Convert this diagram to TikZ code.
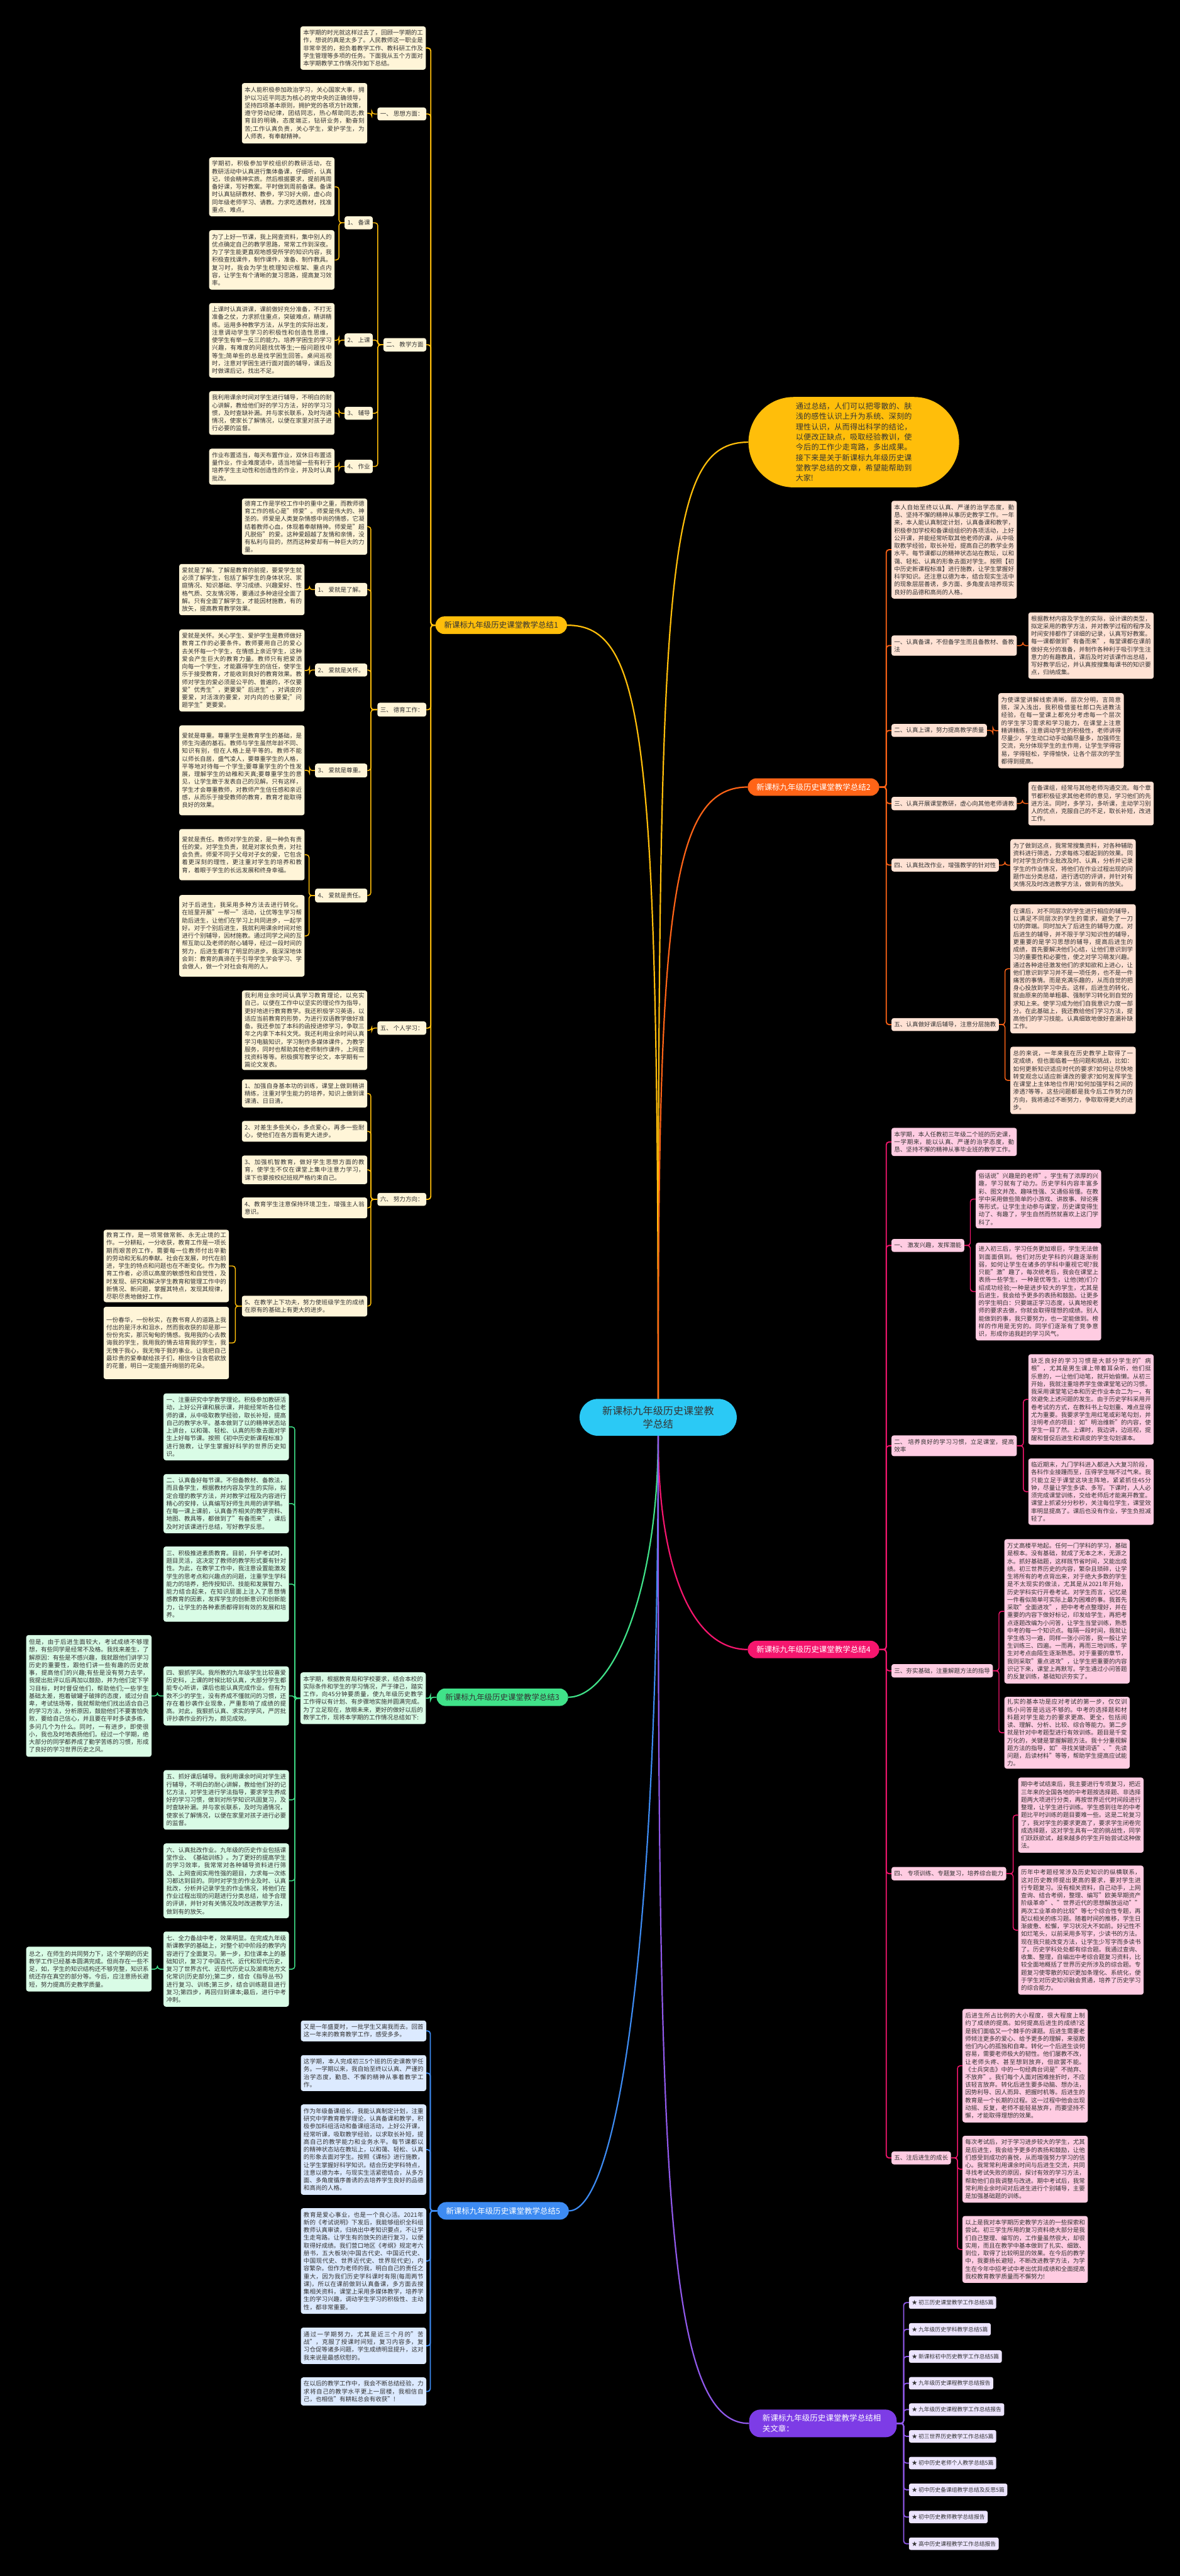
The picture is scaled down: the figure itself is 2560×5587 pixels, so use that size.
\documentclass[tikz,border=0pt]{standalone}
\usepackage{fontspec}
\setmainfont{Noto Sans CJK SC}
\XeTeXlinebreaklocale "zh"
\XeTeXlinebreakskip=0pt plus 1pt
\newcommand\myT{\fontsize{13pt}{16.7pt}\selectfont}
\newcommand\myN{\fontsize{17pt}{23pt}\selectfont}
\newcommand\myC{\fontsize{22pt}{29pt}\selectfont}
\newcommand\myK{\fontsize{16.5pt}{22.3pt}\selectfont}
\newcommand\myI{\fontsize{12pt}{14pt}\selectfont}
\definecolor{txtc}{HTML}{333333}
\definecolor{yl}{HTML}{FFBE0A}
\definecolor{ylbox}{HTML}{FFF5D8}
\definecolor{orn}{HTML}{FF6417}
\definecolor{ornbox}{HTML}{FFE2D4}
\definecolor{pnk}{HTML}{F5166E}
\definecolor{pnkbox}{HTML}{FFCCE2}
\definecolor{grn}{HTML}{40E289}
\definecolor{grnbox}{HTML}{D9FCE6}
\definecolor{blu}{HTML}{3D8BF2}
\definecolor{blubox}{HTML}{DCEAFF}
\definecolor{prp}{HTML}{7D3CE6}
\definecolor{prpbox}{HTML}{EDE5FF}
\definecolor{cyn}{HTML}{2BC9F5}
\newcommand\lconn[4]{\draw[#1] (#2.west) -- ++(-#3,0) |- (#4.east);}
\newcommand\rconn[4]{\draw[#1] (#2.east) -- ++(#3,0) |- (#4.west);}
\tikzset{
  every node/.style={inner sep=0pt},
  tb/.style={rounded corners=5pt, inner xsep=6pt, inner ysep=5pt, text width=260pt, align=justify, font=\myT, text=txtc},
  lb/.style={rounded corners=5pt, inner xsep=6pt, inner ysep=4pt, font=\myT, text=txtc, align=left},
  pill/.style={rounded corners=19pt, minimum height=38pt, font=\myN, inner xsep=19pt, align=center},
  yb/.style={tb, fill=ylbox, anchor=north east},
  yl2/.style={lb, fill=ylbox, anchor=north east},
  gb/.style={tb, fill=grnbox, anchor=north east},
  bb/.style={tb, fill=blubox, anchor=north east},
  ob/.style={tb, fill=ornbox, anchor=north west},
  ol/.style={lb, fill=ornbox, anchor=north west},
  pb/.style={tb, fill=pnkbox, anchor=north west},
  pl/.style={lb, fill=pnkbox, anchor=north west},
  itm/.style={rounded corners=4pt, inner xsep=6pt, minimum height=27pt, font=\myI, fill=prpbox, text=txtc, anchor=west},
  yc/.style={draw=yl, line width=2.5pt, rounded corners=6pt},
  yc2/.style={draw=yl, line width=2pt, rounded corners=6pt},
  oc/.style={draw=orn, line width=2.5pt, rounded corners=6pt},
  oc2/.style={draw=orn, line width=2pt, rounded corners=6pt},
  pc/.style={draw=pnk, line width=2.5pt, rounded corners=6pt},
  pc2/.style={draw=pnk, line width=2pt, rounded corners=6pt},
  gc/.style={draw=grn, line width=2.5pt, rounded corners=6pt},
  gc2/.style={draw=grn, line width=2pt, rounded corners=6pt},
  bc/.style={draw=blu, line width=2.5pt, rounded corners=6pt},
  vc/.style={draw=prp!85!white, line width=2.5pt, rounded corners=6pt},
}
\begin{document}
\begin{tikzpicture}[x=1pt,y=-1pt]
\fill[black] (0,0) rectangle (2560,5587);
\useasboundingbox (0,0) rectangle (2560,5587);

% ---------- centre ----------
\node[fill=cyn, rounded corners=40pt, minimum width=341pt, minimum height=80pt, font=\myC, text=txtc, align=center] (c) at (1428,3074) {新课标九年级历史课堂教\\学总结};

% ---------- cloud ----------
\node[fill=yl, rounded corners=98pt, minimum width=457pt, minimum height=196pt, text width=252pt, align=justify, font=\myK, text=txtc] (cl) at (1852.5,959) {通过总结，人们可以把零散的、肤浅的感性认识上升为系统、深刻的理性认识，从而得出科学的结论，以便改正缺点，吸取经验教训，使今后的工作少走弯路，多出成果。接下来是关于新课标九年级历史课堂教学总结的文章，希望能帮助到大家!};

% ---------- branch nodes ----------
\node[pill, fill=yl, text=txtc] (b1) at (1087.5,1356) {新课标九年级历史课堂教学总结1};
\node[pill, fill=orn, text=white] (b2) at (1765,1707) {新课标九年级历史课堂教学总结2};
\node[pill, fill=grn, text=txtc] (b3) at (1090,3681) {新课标九年级历史课堂教学总结3};
\node[pill, fill=pnk, text=white] (b4) at (1765,3577.5) {新课标九年级历史课堂教学总结4};
\node[pill, fill=blu, text=white] (b5) at (1091.5,4795) {新课标九年级历史课堂教学总结5};
\node[pill, fill=prp, text=white, rounded corners=24pt, minimum height=60pt, text width=262pt, inner xsep=29pt, align=left] (b6) at (1785.5,5256) {新课标九年级历史课堂教学总结相关文章：};

% ---------- centre connectors ----------
\draw[draw=yl, line width=3pt] (c.north) .. controls (1428,1600) and (1400,1356) .. (b1.east);
\draw[draw=yl, line width=3pt] (c.north) .. controls (1428,1250) and (1440,959) .. (cl.west);
\draw[draw=orn, line width=3pt] (c.north) .. controls (1428,2000) and (1450,1707) .. (b2.west);
\draw[draw=pnk, line width=3pt] (c.south) .. controls (1428,3400) and (1500,3577.5) .. (b4.west);
\draw[draw=grn, line width=3pt] (c.south) .. controls (1428,3450) and (1330,3681) .. (b3.east);
\draw[draw=blu, line width=3pt] (c.south) .. controls (1428,4300) and (1330,4795) .. (b5.east);
\draw[draw=prp!85!white, line width=3pt] (c.south) .. controls (1428,4700) and (1440,5256) .. (b6.west);

% ================= BRANCH 1 =================
\node[yb, minimum height=94pt] (y0) at (924,57) {本学期的时光就这样过去了，回顾一学期的工作，想说的真是太多了。人民教师这一职业是非常辛苦的，担负着教学工作、教科研工作及学生管理等多项的任务。下面我从五个方面对本学期教学工作情况作如下总结。};
\node[yl2, minimum height=28pt] (L1) at (925,233) {一、 思想方面：};
\node[yb, minimum height=131pt] (t1) at (797,180) {本人能积极参加政治学习，关心国家大事，拥护以习近平同志为核心的党中央的正确领导，坚持四项基本原则，拥护党的各项方针政策，遵守劳动纪律，团结同志，热心帮助同志;教育目的明确，态度端正，钻研业务，勤奋刻苦;工作认真负责，关心学生，爱护学生，为人师表，有奉献精神。};
\node[yl2, minimum height=29pt] (L2) at (925,733) {二、 教学方面};
\node[yl2, minimum height=28pt] (K1) at (809,469) {1、 备课};
\node[yb, minimum height=128pt] (tb1) at (726,341) {学期初，积极参加学校组织的教研活动，在教研活动中认真进行集体备课，仔细听，认真记，领会精神实质。然后根据要求，提前两周备好课，写好教案。平时做到周前备课。备课时认真钻研教材、教参，学习好大纲，虚心向同年级老师学习、请教。力求吃透教材，找准重点、难点。};
\node[yb, minimum height=129pt] (tb2) at (726,499) {为了上好一节课，我上网查资料，集中别人的优点确定自己的教学思路，常常工作到深夜。为了学生能更直观地感受所学的知识内容，我积极查找课件，制作课件，准备、制作教具。复习时，我会为学生梳理知识框架、重点内容，让学生有个清晰的复习思路，提高复习效率。};
\node[yl2, minimum height=29pt] (K2) at (809,723) {2、 上课};
\node[yb, minimum height=162pt] (ts) at (726,657) {上课时认真讲课，课前做好充分准备，不打无准备之仗，力求抓住重点，突破难点，精讲精练。运用多种教学方法，从学生的实际出发，注意调动学生学习的积极性和创造性思维，使学生有举一反三的能力。培养学困生的学习兴趣，有难度的问题找优等生;一般问题找中等生;简单些的总是找学困生回答。桌间巡视时，注意对学困生进行面对面的辅导，课后及时做课后记，找出不足。};
\node[yl2, minimum height=28pt] (K3) at (809,882) {3、 辅导};
\node[yb, minimum height=95pt] (tf) at (726,848) {我利用课余时间对学生进行辅导，不明白的耐心讲解，教给他们好的学习方法，好的学习习惯，及时查缺补漏。并与家长联系，及时沟通情况，使家长了解情况，以便在家里对孩子进行必要的监督。};
\node[yl2, minimum height=29pt] (K4) at (809,997) {4、 作业};
\node[yb, minimum height=78pt] (tz) at (726,973) {作业布置适当，每天布置作业，双休日布置适量作业，作业难度适中，适当地留一些有利于培养学生主动性和创造性的作业，并及时认真批改。};
\node[yl2, minimum height=30pt] (L3) at (925,1524) {三、 德育工作：};
\node[yb, minimum height=112pt] (td0) at (797,1081) {德育工作是学校工作中的重中之重，而教师德育工作的核心是"师爱"。师爱是伟大的、神圣的。师爱是人类复杂情感中尚的情感，它凝结着教师心血，体现着奉献精神。师爱是"超凡脱俗"的爱。这种爱超越了友情和亲情，没有私利与目的，然而这种爱却有一种巨大的力量。};
\node[yl2, minimum height=29pt] (A1) at (797,1264) {1、 爱就是了解。};
\node[yb, minimum height=111pt] (ta1) at (661,1223) {爱就是了解。了解是教育的前提，要爱学生就必须了解学生，包括了解学生的身体状况、家庭情况、知识基础、学习成绩、兴趣爱好、性格气质、交友情况等，要通过多种途径全面了解。只有全面了解学生，才能因材施教，有的放矢，提高教育教学效果。};
\node[yl2, minimum height=28pt] (A2) at (797,1439) {2、 爱就是关怀。};
\node[yb, minimum height=178pt] (ta2) at (661,1365) {爱就是关怀。关心学生、爱护学生是教师做好教育工作的必要条件。教师要用自己的爱心去关怀每一个学生，在情感上亲近学生，这种爱会产生巨大的教育力量。教师只有把爱洒向每一个学生，才能赢得学生的信任，使学生乐于接受教育，才能收到良好的教育效果。教师对学生的爱必须是公平的、普遍的，不仅要爱"优秀生"，更要爱"后进生"，对调皮的要爱，对活泼的要爱，对内向的也要爱;"问题学生"更要爱。};
\node[yl2, minimum height=30pt] (A3) at (797,1656) {3、 爱就是尊重。};
\node[yb, minimum height=195pt] (ta3) at (661,1573) {爱就是尊重。尊重学生是教育学生的基础，是师生沟通的基石。教师与学生虽然年龄不同、知识有别，但在人格上是平等的。教师不能以师长自居，盛气凌人，要尊重学生的人格，平等地对待每一个学生;要尊重学生的个性发展，理解学生的幼稚和天真;要尊重学生的意见，让学生敢于发表自己的见解。只有这样，学生才会尊重教师，对教师产生信任感和亲近感，从而乐于接受教师的教育，教育才能取得良好的效果。};
\node[yl2, minimum height=30pt] (A4) at (797,1927) {4、 爱就是责任。};
\node[yb, minimum height=111pt] (ta4a) at (661,1798) {爱就是责任。教师对学生的爱，是一种负有责任的爱。对学生负责，就是对家长负责，对社会负责。师爱不同于父母对子女的爱，它包含着更深刻的理性，更注重对学生的培养和教育，着眼于学生的长远发展和终身幸福。};
\node[yb, minimum height=177pt] (ta4b) at (661,1941) {对于后进生，我采用多种方法去进行转化。在班里开展"一帮一"活动，让优等生学习帮助后进生，让他们在学习上共同进步，一起学好。对于个别后进生，我就利用课余时间对他进行个别辅导，因材施教。通过同学之间的互帮互助以及老师的耐心辅导，经过一段时间的努力，后进生都有了明显的进步。我深深地体会到：教育的真谛在于引导学生学会学习、学会做人，做一个对社会有用的人。};
\node[yl2, minimum height=29pt] (L5) at (925,2215) {五、 个人学习：};
\node[yb, minimum height=162pt] (t5) at (797,2148) {我利用业余时间认真学习教育理论，以充实自己，以便在工作中以坚实的理论作为指导，更好地进行教育教学。我还积极学习英语，以适应当前教育的形势，为进行双语教学做好准备。我还参加了本科的函授进修学习，争取三年之内拿下本科文凭。我还利用业余时间认真学习电脑知识，学习制作多媒体课件，为教学服务，同时也帮助其他老师制作课件，上网查找资料等等。积极撰写教学论文，本学期有一篇论文发表。};
\node[yl2, minimum height=28pt] (L6) at (925,2587) {六、 努力方向：};
\node[yb, minimum height=61pt] (n1) at (797,2341) {1、加强自身基本功的训练，课堂上做到精讲精练，注重对学生能力的培养，知识上做到课课清、日日清。};
\node[yb, minimum height=45pt] (n2) at (797,2431) {2、对差生多些关心，多点爱心，再多一些耐心，使他们在各方面有更大进步。};
\node[yb, minimum height=62pt] (n3) at (797,2506) {3、加强机智教育，做好学生思想方面的教育，使学生不仅在课堂上集中注意力学习，课下也要按校纪班规严格约束自己。};
\node[yb, minimum height=45pt] (n4) at (797,2597) {4、教育学生注意保持环境卫生，增强主人翁意识。};
\node[yb, minimum height=45pt] (n5) at (797,2810) {5、在教学上下功夫，努力使班级学生的成绩在原有的基础上有更大的进步。};
\node[yb, minimum height=157pt] (f1) at (497,2667) {教育工作，是一项常做常新、永无止境的工作。一分耕耘，一分收获，教育工作是一项长期而艰苦的工作，需要每一位教师付出辛勤的劳动和无私的奉献。社会在发展，时代在前进，学生的特点和问题也在不断变化。作为教育工作者，必须以高度的敏感性和自觉性，及时发现、研究和解决学生教育和管理工作中的新情况、新问题，掌握其特点，发现其规律，尽职尽责地做好工作。};
\node[yb, minimum height=157pt] (f2) at (497,2834) {一份春华，一份秋实，在教书育人的道路上我付出的是汗水和泪水，然而我收获的却是那一份份充实，那沉甸甸的情感。我用我的心去教诲我的学生，我用我的情去培育我的学生，我无愧于我心，我无悔于我的事业。让我把自己最珍贵的爱奉献给孩子们，相信今日含苞欲放的花蕾，明日一定能盛开绚丽的花朵。};

\lconn{yc}{b1}{10}{y0}
\lconn{yc}{b1}{10}{L1}
\lconn{yc}{b1}{10}{L2}
\lconn{yc}{b1}{10}{L3}
\lconn{yc}{b1}{10}{L5}
\lconn{yc}{b1}{10}{L6}
\lconn{yc2}{L1}{12}{t1}
\lconn{yc2}{L2}{12}{K1}
\lconn{yc2}{L2}{12}{K2}
\lconn{yc2}{L2}{12}{K3}
\lconn{yc2}{L2}{12}{K4}
\lconn{yc2}{K1}{12}{tb1}
\lconn{yc2}{K1}{12}{tb2}
\lconn{yc2}{K2}{12}{ts}
\lconn{yc2}{K3}{12}{tf}
\lconn{yc2}{K4}{12}{tz}
\lconn{yc2}{L3}{14}{td0}
\lconn{yc2}{L3}{14}{A1}
\lconn{yc2}{L3}{14}{A2}
\lconn{yc2}{L3}{14}{A3}
\lconn{yc2}{L3}{14}{A4}
\lconn{yc2}{A1}{12}{ta1}
\lconn{yc2}{A2}{12}{ta2}
\lconn{yc2}{A3}{12}{ta3}
\lconn{yc2}{A4}{13}{ta4a}
\lconn{yc2}{A4}{13}{ta4b}
\lconn{yc2}{L5}{12}{t5}
\lconn{yc2}{L6}{14}{n1}
\lconn{yc2}{L6}{14}{n2}
\lconn{yc2}{L6}{14}{n3}
\lconn{yc2}{L6}{14}{n4}
\lconn{yc2}{L6}{14}{n5}
\lconn{yc2}{n5}{14}{f1}
\lconn{yc2}{n5}{14}{f2}

% ================= BRANCH 3 =================
\node[gb, minimum height=112pt] (g0) at (924,3627) {本学期，根据教育局和学校要求，结合本校的实际条件和学生的学习情况，严于律己，踏实工作，向45分钟要质量，使九年级历史教学工作得以有计划、有步骤地实施并圆满完成。为了立足现在，放眼未来，更好的做好以后的教学工作，现将本学期的工作情况总结如下:};
\node[gb, minimum height=145pt] (g1) at (627,3022) {一、注重研究中学教学理论。积极参加教研活动，上好公开课和展示课，并能经常听各位老师的课，从中吸取教学经验，取长补短，提高自己的教学水平。基本做到了以的精神状态站上讲台，以和蔼、轻松、认真的形象去面对学生上好每节课。按照《初中历史新课程标准》进行施教，让学生掌握好科学的世界历史知识。};
\node[gb, minimum height=128pt] (g2) at (627,3197) {二、认真备好每节课。不但备教材、备教法，而且备学生，根据教材内容及学生的实际，拟定合理的教学方法，并对教学过程及内容进行精心的安排，认真编写好师生共用的讲学稿。在每一课上课前，认真备齐相关的教学资料、地图、教具等，都做到了"有备而来"，课后及时对该课进行总结，写好教学反思。};
\node[gb, minimum height=163pt] (g3) at (627,3354) {三、积极推进素质教育。目前，升学考试时，题目灵活，这决定了教师的教学形式要有针对性。为此，在教学工作中，我注意设置能激发学生的思考点和兴趣点的问题，注重学生学科能力的培养，把传授知识、技能和发展智力、能力结合起来，在知识层面上注入了思想情感教育的因素，发挥学生的创新意识和创新能力，让学生的各种素质都得到有效的发展和培养。};
\node[gb, minimum height=128pt] (g4) at (627,3614) {四、狠抓学风。我所教的九年级学生比较喜爱历史科，上课的时候比较认真，大部分学生都能专心听讲，课后也能认真完成作业。但有为数不少的学生，没有养成不懂就问的习惯，还存在着抄袭作业现象，严重影响了成绩的提高。对此，我狠抓认真、求实的学风，严厉批评抄袭作业的行为，颇见成效。};
\node[gb, minimum height=264pt] (g4c) at (329,3546) {但是，由于后进生面较大，考试成绩不够理想，有些同学是经常不及格。我找来差生，了解原因：有些是不感兴趣，我就跟他们讲学习历史的重要性，跟他们讲一些有趣的历史故事，提高他们的兴趣;有些是没有努力去学，我提出批评以后再加以鼓励，并为他们定下学习目标，时时督促他们，帮助他们;一些学生基础太差，抱着破罐子破摔的态度，或过分自卑，考试怯场等，我就帮助他们找出适合自己的学习方法，分析原因，鼓励他们不要害怕失败，要给自己信心，并且要在平时多读多练，多问几个为什么。同时，一有进步，即使很小，我也及时地表扬他们。经过一个学期，绝大部分的同学都养成了勤学苦练的习惯，形成了良好的学习世界历史之风。};
\node[gb, minimum height=129pt] (g5) at (627,3839) {五、抓好课后辅导。我利用课余时间对学生进行辅导，不明白的耐心讲解，教给他们好的记忆方法，对学生进行学法指导，要求学生养成好的学习习惯，做到对所学知识巩固复习，及时查缺补漏。并与家长联系，及时沟通情况，使家长了解情况，以便在家里对孩子进行必要的监督。};
\node[gb, minimum height=162pt] (g6) at (627,3998) {六、认真批改作业。九年级的历史作业包括课堂作业、《基础训练》。为了更好的提高学生的学习效率，我常常对各种辅导资料进行筛选、上网查阅实用性强的题目，力求每一次练习都达到目的。同时对学生的作业及时、认真批改，分析并记录学生的作业情况，将他们在作业过程出现的问题进行分类总结，给予合理的评讲，并针对有关情况及时改进教学方法，做到有的放矢。};
\node[gb, minimum height=163pt] (g7) at (627,4189) {七、全力备战中考，效果明显。在完成九年级新课教学的基础上，对整个初中阶段的教学内容进行了全面复习。第一步，扣住课本上的基础知识，复习了中国古代、近代和现代历史，复习了世界古代、近现代历史以及湖南地方文化常识(历史部分);第二步，结合《指导丛书》进行复习、训练;第三步，结合训练题目进行复习;第四步，再回归到课本;最后，进行中考冲刺。};
\node[gb, minimum height=97pt] (g7c) at (329,4222) {总之，在师生的共同努力下，这个学期的历史教学工作已经基本圆满完成。但尚存在一些不足，如，学生的知识结构还不够完整，知识系统还存在真空的部分等。今后，应注意扬长避短，努力提高历史教学质量。};

\lconn{gc}{b3}{13}{g0}
\lconn{gc2}{g0}{12}{g1}
\lconn{gc2}{g0}{12}{g2}
\lconn{gc2}{g0}{12}{g3}
\lconn{gc2}{g0}{12}{g4}
\lconn{gc2}{g0}{12}{g5}
\lconn{gc2}{g0}{12}{g6}
\lconn{gc2}{g0}{12}{g7}
\lconn{gc2}{g4}{13}{g4c}
\lconn{gc2}{g7}{13}{g7c}

% ================= BRANCH 5 =================
\node[bb, minimum height=45pt] (bl1) at (925,4382) {又是一年盛夏时，一批学生又离我而去。回首这一年来的教育教学工作，感受多多。};
\node[bb, minimum height=78pt] (bl2) at (925,4457) {这学期，本人完成初三5个班的历史课教学任务。一学期以来，我自始至终以认真、严谨的治学态度，勤恳、不懈的精神从事着教学工作。};
\node[bb, minimum height=196pt] (bl3) at (925,4564) {作为年级备课组长，我能认真制定计划，注重研究中学教育教学理论，认真备课和教学，积极参加科组活动和备课组活动，上好公开课，经常听课，吸取教学经验，以求取长补短，提高自己的教学能力和业务水平。每节课都以的精神状态站在教坛上，以和蔼、轻松、认真的形象去面对学生。按照《课标》进行施教，让学生掌握好科学知识。结合历史学科特点，注意以德为本，与现实生活紧密结合，从多方面、多角度循序善诱的去培养学生良好的品德和高尚的人格。};
\node[bb, minimum height=229pt] (bl4) at (925,4789) {教育是爱心事业，也是一个良心活。2021年新的《考试说明》下发后，我能够组织全科组教师认真审读，归纳出中考知识要点，不让学生走弯路。让学生有的放矢的进行复习，以便取得好成绩。我们营口地区《考纲》规定考六册书，五大板块(中国古代史、中国近代史、中国现代史、世界近代史、世界现代史)，内容繁杂。但作为老师的我，明白自己的责任之重大，因为我们历史学科课时有限(每周两节课)，所以在课前做到认真备课，多方面去搜集相关资料，课堂上采用多媒体教学，培养学生的学习兴趣，调动学生学习的积极性、主动性，都非常重要。};
\node[bb, minimum height=79pt] (bl5) at (925,5048) {通过一学期努力，尤其是近三个月的"苦战"，克服了授课时间短，复习内容多，复习仓促等诸多问题，学生成绩明显提升，这对我来说是最感欣慰的。};
\node[bb, minimum height=61pt] (bl6) at (925,5156) {在以后的教学工作中，我会不断总结经验，力求将自己的教学水平更上一层楼，我相信自己，也相信"有耕耘总会有收获"!};

\lconn{bc}{b5}{15}{bl1}
\lconn{bc}{b5}{15}{bl2}
\lconn{bc}{b5}{15}{bl3}
\lconn{bc}{b5}{15}{bl4}
\lconn{bc}{b5}{15}{bl5}
\lconn{bc}{b5}{15}{bl6}

% ================= BRANCH 2 =================
\node[ob, minimum height=212pt] (o0) at (1934,1086) {本人自始至终以认真、严谨的治学态度，勤恳、坚持不懈的精神从事历史教学工作。一年来，本人能认真制定计划，认真备课和教学，积极参加学校和备课组组织的各项活动，上好公开课，并能经常听取其他老师的课，从中吸取教学经验，取长补短，提高自己的教学业务水平。每节课都以的精神状态站在教坛，以和蔼、轻松、认真的形象去面对学生。按照【初中历史新课程标准】进行施教，让学生掌握好科学知识。还注意以德为本，结合现实生活中的现象层层善诱，多方面、多角度去培养现实良好的品德和高尚的人格。};
\node[ob, minimum height=44pt] (o1) at (1934,1378) {一、认真备课，不但备学生而且备教材、备教法};
\node[ob, minimum height=144pt] (o1c) at (2231,1328) {根据教材内容及学生的实际，设计课的类型，拟定采用的教学方法，并对教学过程的程序及时间安排都作了详细的记录，认真写好教案。每一课都做到"有备而来"，每堂课都在课前做好充分的准备，并制作各种利于吸引学生注意力的有趣教具，课后及时对该课作出总结，写好教学后记，并认真按搜集每课书的知识要点，归纳成集。};
\node[ol, minimum height=28pt] (o2) at (1934,1570) {二、认真上课，努力提高教学质量};
\node[ob, minimum height=163pt] (o2c) at (2166,1503) {为使课堂讲解线索清晰，层次分明，言简意赅，深入浅出，我积极借鉴杜郎口先进教法经验，在每一堂课上都充分考虑每一个层次的学生学习需求和学习能力，在课堂上注意精讲精练，注意调动学生的积极性，老师讲得尽量少，学生动口动手动脑尽量多，加强师生交流，充分体现学生的主作用，让学生学得容易，学得轻松，学得愉快，让各个层次的学生都得到提高。};
\node[ol, minimum height=29pt] (o3) at (1934,1728) {三、认真开展课堂教研，虚心向其他老师请教};
\node[ob, minimum height=95pt] (o3c) at (2231,1695) {在备课组，经常与其他老师沟通交流。每个章节都积极征求其他老师的意见，学习他们的先进方法。同时，多学习，多听课，主动学习别人的优点，克服自己的不足，取长补短，改进工作。};
\node[ol, minimum height=28pt] (o4) at (1934,1862) {四、认真批改作业，增强教学的针对性};
\node[ob, minimum height=112pt] (o4c) at (2192,1820) {为了做到这点，我常常搜集资料，对各种辅助资料进行筛选，力求每练习都起到的效果。同时对学生的作业批改及时、认真，分析并记录学生的作业情况，将他们在作业过程出现的问题作出分类总结，进行透切的评讲，并针对有关情况及时改进教学方法，做到有的放矢。};
\node[ol, minimum height=28pt] (o5) at (1934,2208) {五、认真做好课后辅导，注意分层施教};
\node[ob, minimum height=280pt] (o5a) at (2192,1961) {在课后，对不同层次的学生进行相应的辅导，以满足不同层次的学生的需求，避免了一刀切的弊端。同时加大了后进生的辅导力度。对后进生的辅导，并不限于学习知识性的辅导，更重要的是学习思想的辅导，提高后进生的成绩，首先要解决他们心结，让他们意识到学习的重要性和必要性，使之对学习萌发兴趣。通过各种途径激发他们的求知欲和上进心，让他们意识到学习并不是一项任务，也不是一件痛苦的事情。而是充满乐趣的，从而自觉的把身心投放到学习中去。这样，后进生的转化，就由原来的简单粗暴、强制学习转化到自觉的求知上来。使学习成为他们自我意识力度一部分。在此基础上，我还教给他们学习方法，提高他们的学习技能。认真细致地做好查漏补缺工作。};
\node[ob, minimum height=146pt] (o5b) at (2192,2270) {总的来说，一年来我在历史教学上取得了一定成绩，但也面临着一些问题和挑战，比如：如何更新知识适应时代的要求?如何让尽快地转变观念以适应新课改的要求?如何发挥学生在课堂上主体地位作用?如何加强学科之间的渗透?等等，这些问题都是我今后工作努力的方向，我将通过不断努力，争取取得更大的进步。};

\rconn{oc}{b2}{15}{o0}
\rconn{oc}{b2}{15}{o1}
\rconn{oc}{b2}{15}{o2}
\rconn{oc}{b2}{15}{o3}
\rconn{oc}{b2}{15}{o4}
\rconn{oc}{b2}{15}{o5}
\rconn{oc2}{o1}{13}{o1c}
\rconn{oc2}{o2}{13}{o2c}
\rconn{oc2}{o3}{12}{o3c}
\rconn{oc2}{o4}{13}{o4c}
\rconn{oc2}{o5}{13}{o5a}
\rconn{oc2}{o5}{13}{o5b}

% ================= BRANCH 4 =================
\node[pb, minimum height=61pt] (p0) at (1934,2446) {本学期，本人任教初三年级二个班的历史课，一学期来，能以认真、严谨的治学态度，勤恳、坚持不懈的精神从事毕业班的教学工作。};
\node[pl, minimum height=28pt] (p1) at (1934,2687) {一、 激发兴趣，发挥潜能};
\node[pb, minimum height=127pt] (p1a) at (2117,2537) {俗话说"兴趣是的老师"。学生有了浓厚的兴趣，学习就有了动力。历史学科内容丰富多彩、图文并茂、趣味性强、又通俗易懂。在教学中采用做些简单的小游戏、讲故事、辩论赛等形式，让学生主动参与课堂，历史课变得生动了、有趣了，学生自然而然就喜欢上这门学科了。};
\node[pb, minimum height=212pt] (p1b) at (2117,2695) {进入初三后，学习任务更加艰巨，学生无法做到面面俱到。他们对历史学科的兴趣逐渐削弱，如何让学生在诸多的学科中重视它呢?我只能"激"趣了，每次统考后，我会在课堂上表扬一些学生，一种是优等生，让他(她)们介绍成功经验;一种是进步较大的学生，尤其是后进生，我会给予更多的表扬和鼓励。让更多的学生明白：只要端正学习态度，认真地按老师的要求去做，你就会取得理想的成绩。别人能做到的事，我只要努力，也一定能做到。榜样的作用是无穷的。同学们逐渐有了竞争意识，形成你追我赶的学习风气。};
\node[pb, minimum height=45pt] (p2) at (1934,3113) {二、 培养良好的学习习惯，立足课堂，提高效率};
\node[pb, minimum height=196pt] (p2a) at (2231,2937) {缺乏良好的学习习惯是大部分学生的"病根"，尤其是男生课上带着耳朵听，他们挺乐意的，一让他们动笔，就开始偷懒。从初三开始，我就注重培养学生做课堂笔记的习惯。我采用课堂笔记本和历史作业本合二为一，有效避免上述问题的发生。由于历史学科采用开卷考试的方式，在教科书上勾划重、难点显得尤为重要。我要求学生用红笔或彩笔勾划，并注明考点的项目：如"明治维新"的内容，使学生一目了然。上课时，我边讲，边巡视，提醒和督促后进生和调皮的学生勾划课本。};
\node[pb, minimum height=144pt] (p2b) at (2231,3163) {临近期末，九门学科进入都进入大复习阶段，各科作业接踵而至，压得学生喘不过气来。我只能立足于课堂这块主阵地，紧紧抓住45分钟，尽量让学生多读、多写。下课时，人人必须完成课堂训练，交给老师后才能离开教室。课堂上抓紧分分秒秒，关注每位学生，课堂效率明显提高了。课后也没有作业，学生负担减轻了。};
\node[pl, minimum height=29pt] (p3) at (1934,3609) {三、夯实基础，注重解题方法的指导};
\node[pb, minimum height=313pt] (p3a) at (2179,3338) {万丈高楼平地起。任何一门学科的学习，基础是根本。没有基础，就成了无本之木，无源之水。抓好基础题，这样既节省时间，又能出成绩。初三世界历史的内容，繁杂且琐碎，让学生将所有的考点背出来，对于绝大多数的学生是不太现实的做法，尤其是从2021年开始，历史学科实行开卷考试。对学生而言，记忆是一件看似简单可实际上最为困难的事。我首先采取"全面进攻"，把中考考点整理好，并在重要的内容下做好标记，印发给学生，再把考点逐题改编为小问答，让学生当堂训练，熟悉中考的每一个知识点。每隔一段时间，我就让学生练习一遍，同样一张小问答，我一般让学生训练三、四遍。一而再，再而三地训练，学生对考点由陌生逐渐熟悉。对于重要的章节，我则采取"重点进攻"，让学生把重要的内容识记下来，课堂上再默写。学生通过小问答题的反复训练，基础知识夯实了。};
\node[pb, minimum height=146pt] (p3b) at (2179,3680) {扎实的基本功是应对考试的第一步，仅仅训练小问答是远远不够的。中考的选择题和材料题对学生能力的要求更高、更全，包括阅读、理解、分析、比较、综合等能力。第二步就是针对中考题型进行有效训练。题目是千变万化的，关键是掌握解题方法。我十分重视解题方法的指导，如"寻找关键词语"、"先读问题，后读材料"等等，帮助学生提高应试能力。};
\node[pl, minimum height=29pt] (p4) at (1934,4049) {四、 专项训练、专题复习，培养综合能力};
\node[pb, minimum height=163pt] (p4a) at (2209,3855) {期中考试结束后，我主要进行专项复习，把近三年来的全国各地的中考题按选择题、非选择题两大项进行分类，再按世界近代时间段进行整理，让学生进行训练。学生感到往年的中考题比平时训练的题目要难一些。这是二轮复习了，我对学生的要求更高了，要求学生闭卷完成选择题，这对学生具有一定的挑战性，同学们跃跃欲试，越来越多的学生开始尝试这种做法。};
\node[pb, minimum height=280pt] (p4b) at (2209,4046) {历年中考题经常涉及历史知识的纵横联系，这对历史教师提出更高的要求，要对学生进行专题复习。没有相关资料，自己动手，上网查询、结合考纲，整理、编写"欧美早期资产阶级革命"、"世界近代的思想解放运动""两次工业革命的比较"等七个综合性专题，再配以相关的练习题。随着时间的推移，学生日渐疲惫、松懈，学习状况大不如前。好记性不如烂笔头，以前采用多写字，少读书的方法。现在我只能改变方法，让学生少写字而多读书了。历史学科处处都有综合题。我通过查询、收集、整理，自编出中考综合题复习资料，比较全面地概括了世界历史所涉及的综合题。专题复习使零散的知识更加条理化、系统化，便于学生对历史知识融会贯通，培养了历史学习的综合能力。};
\node[pl, minimum height=28pt] (p5) at (1934,4666) {五、注后进生的成长};
\node[pb, minimum height=246pt] (p5a) at (2088,4357) {后进生所占比例的大小程度，很大程度上制约了成绩的提高。如何提高后进生的成绩?这是我们面临又一个棘手的课题。后进生需要老师倾注更多的爱心、给予更多的理解，来驱散他们内心的孤独和自卑。转化一个后进生谈何容易，需要老师极大的韧性。他们屡教不改，让老师头疼、甚至想到放弃，但欲罢不能。《士兵突击》中的一句经典台词是"不抛弃、不放弃"。我们每个人面对困难挫折时，不应该轻言放弃。转化后进生要多动脑、想办法，因势利导、因人而异、把握时机等。后进生的教育是一个长期的过程。这一过程中他会出现动摇、反复，老师不能轻易放弃，而要坚持不懈，才能取得理想的效果。};
\node[pb, minimum height=145pt] (p5b) at (2088,4632) {每次考试后，对于学习进步较大的学生，尤其是后进生，我会给予更多的表扬和鼓励，让他们感受到成功的喜悦，从而增强努力学习的信心。我常常利用课余时间与后进生交流，共同寻找考试失败的原因，探讨有效的学习方法，帮助他们自我调整与改进。期中考试后，我常常利用业余时间对后进生进行个别辅导，主要是加强基础题的训练。};
\node[pb, minimum height=145pt] (p5c) at (2088,4806) {以上是我对本学期历史教学方法的一些探索和尝试。初三学生所用的复习资料绝大部分是我们自己整理、编写的，工作量虽然很大，却很实用，而且在教学中基本做到了扎实、细致、到位，取得了比较明显的效果。在今后的教学中，我要扬长避短，不断改进教学方法，为学生在今年中招考试中考出优异成绩和全面提高我校教育教学质量而不懈努力!};

\rconn{pc}{b4}{15}{p0}
\rconn{pc}{b4}{15}{p1}
\rconn{pc}{b4}{15}{p2}
\rconn{pc}{b4}{15}{p3}
\rconn{pc}{b4}{15}{p4}
\rconn{pc}{b4}{15}{p5}
\rconn{pc2}{p1}{13}{p1a}
\rconn{pc2}{p1}{13}{p1b}
\rconn{pc2}{p2}{14}{p2a}
\rconn{pc2}{p2}{14}{p2b}
\rconn{pc2}{p3}{13}{p3a}
\rconn{pc2}{p3}{13}{p3b}
\rconn{pc2}{p4}{15}{p4a}
\rconn{pc2}{p4}{15}{p4b}
\rconn{pc2}{p5}{14}{p5a}
\rconn{pc2}{p5}{14}{p5b}
\rconn{pc2}{p5}{14}{p5c}

% ================= BRANCH 6 =================
\node[itm] (r1) at (1972,4994) {★ 初三历史课堂教学工作总结5篇};
\node[itm] (r2) at (1972,5052) {★ 九年级历史学科教学总结5篇};
\node[itm] (r3) at (1972,5111) {★ 新课标初中历史教学工作总结5篇};
\node[itm] (r4) at (1972,5169) {★ 九年级历史课程教学总结报告};
\node[itm] (r5) at (1972,5226) {★ 九年级历史课程教学工作总结报告};
\node[itm] (r6) at (1972,5284) {★ 初三世界历史教学工作总结5篇};
\node[itm] (r7) at (1972,5342) {★ 初中历史老师个人教学总结5篇};
\node[itm] (r8) at (1972,5400) {★ 初中历史备课组教学总结及反思5篇};
\node[itm] (r9) at (1972,5459) {★ 初中历史教师教学总结报告};
\node[itm] (r10) at (1972,5517) {★ 高中历史课程教学工作总结报告};
\foreach \r in {r1,r2,r3,r4,r5,r6,r7,r8,r9,r10} {\rconn{vc}{b6}{15}{\r}}
\end{tikzpicture}
\end{document}
